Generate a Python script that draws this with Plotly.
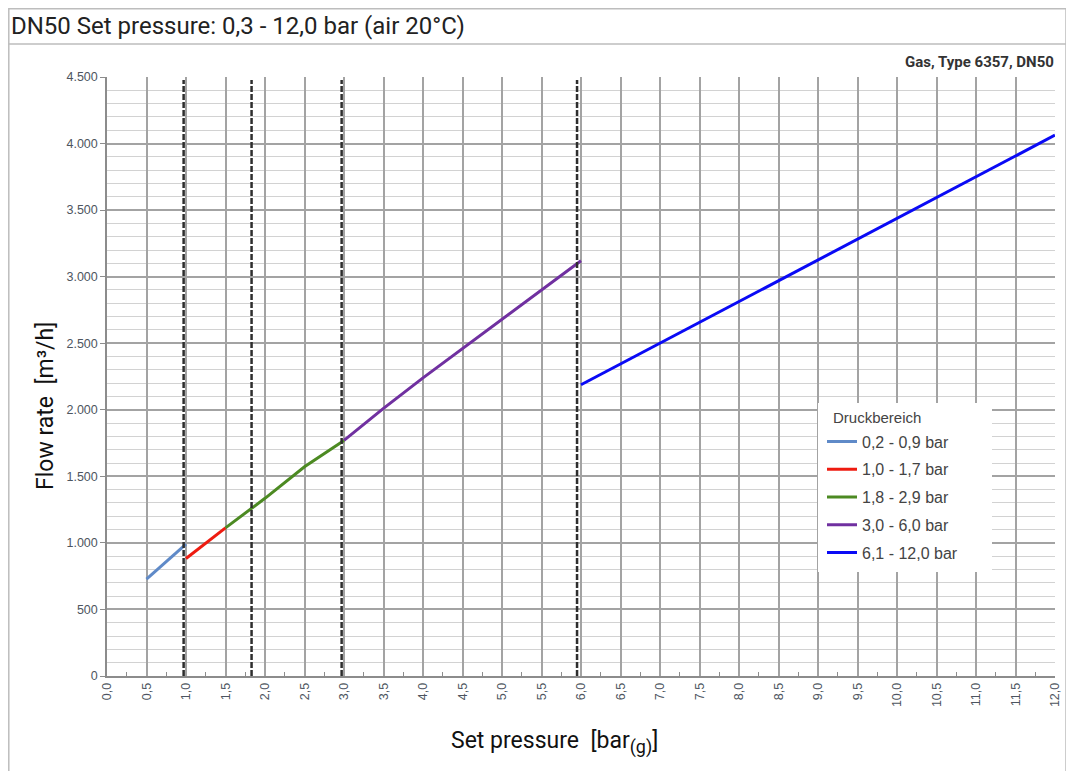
import plotly.graph_objects as go

# ---- data ----
series_names = ["0,2 - 0,9 bar", "1,0 - 1,7 bar", "1,8 - 2,9 bar", "3,0 - 6,0 bar", "6,1 - 12,0 bar"]
series_colors = ["#5F8AC8", "#EE1B10", "#4C8A22", "#7030A0", "#0A0AF5"]
legend_title = "Druckbereich"

x_s1 = [0.5, 1.0]
y_s1 = [727, 990]
x_s2 = [1.0, 1.5]
y_s2 = [883, 1113]
x_s3 = [1.5, 1.8, 2.0, 2.5, 3.0]
y_s3 = [1113, 1250, 1335, 1572, 1770]
x_s4 = [3.0, 3.5, 4.0, 4.5, 5.0, 5.5, 6.0]
y_s4 = [1770, 2010, 2240, 2460, 2680, 2900, 3120]
x_s5 = [6.0, 12.0]
y_s5 = [2188, 4063]

boundaries = [0.97, 1.83, 2.97, 5.95]

# page is offset by the 8px body margin
OFF = 8
W, H = 1066, 763
PL, PR, PT, PB = 107, 1055, 77, 676  # plot area in page pixels
L, R, T, B = PL - OFF, W - (PR - OFF), PT - OFF, H - (PB - OFF)
PW, PH = W - L - R, H - T - B


def px(x):
    return (x - OFF - L) / PW


def py(y):
    return (H - B - (y - OFF)) / PH


fig = go.Figure()

# dashed boundary lines
for b in boundaries:
    fig.add_shape(type="line", xref="x", yref="y domain", x0=b, x1=b, y0=0, y1=0.995,
                  line=dict(color="#2E2E2E", width=2.5, dash="6px,2px"), layer="above")

xs = [x_s1, x_s2, x_s3, x_s4, x_s5]
ys = [y_s1, y_s2, y_s3, y_s4, y_s5]
for i, (n, c) in enumerate(zip(series_names, series_colors)):
    fig.add_trace(go.Scatter(x=xs[i], y=ys[i], mode="lines", name=n, legendgroup=n,
                             line=dict(color=c, width=3)))

# white legend panel
fig.add_shape(type="rect", xref="paper", yref="paper", x0=px(818), x1=px(992), y0=py(403), y1=py(572),
              line=dict(width=0), fillcolor="white", layer="above")

# frame
fig.add_shape(type="rect", xref="paper", yref="paper", x0=px(8.8), x1=px(1066), y0=py(8.8), y1=py(800),
              line=dict(color="#BDBDBD", width=1.5), fillcolor="rgba(0,0,0,0)", layer="below")
fig.add_shape(type="line", xref="paper", yref="paper", x0=px(8.8), x1=px(1066), y0=py(44), y1=py(44),
              line=dict(color="#BDBDBD", width=1.5))

fig.add_annotation(text="DN50 Set pressure: 0,3 - 12,0 bar (air 20°C)", xref="paper", yref="paper",
                   x=px(9), y=py(26), xanchor="left", yanchor="middle", showarrow=False,
                   font=dict(family="Roboto", size=24, color="#222222"))
fig.add_annotation(text="<b>Gas, Type 6357, DN50</b>", xref="paper", yref="paper",
                   x=px(1056), y=py(62), xanchor="right", yanchor="middle", showarrow=False,
                   font=dict(family="Roboto", size=15, color="#333333"))
fig.add_annotation(text="Flow rate \u00a0[m³/h]", xref="paper", yref="paper",
                   x=px(45), y=py(406), xanchor="center", yanchor="middle", textangle=-90, showarrow=False,
                   font=dict(family="Roboto", size=23, color="#111111"))
fig.add_annotation(text="Set pressure \u00a0[bar<sub><span style='font-size:18px'>(g)</span></sub>]",
                   xref="paper", yref="paper",
                   x=px(554), y=py(742), xanchor="center", yanchor="middle", showarrow=False,
                   font=dict(family="Roboto", size=23, color="#111111"))
fig.add_annotation(text=legend_title, xref="paper", yref="paper",
                   x=px(831), y=py(418), xanchor="left", yanchor="middle", showarrow=False,
                   font=dict(family="Arial", size=15, color="#444444"))

fig.update_layout(
    width=W, height=H, autosize=False,
    margin=dict(l=L, r=R, t=T, b=B),
    paper_bgcolor="white", plot_bgcolor="white",
    separators=",.",
    showlegend=True,
    legend=dict(
        x=px(822), y=py(424.5), xanchor="left", yanchor="top",
        bgcolor="rgba(255,255,255,0)", font=dict(family="Arial", size=16, color="#444444"),
        tracegroupgap=4, itemwidth=30,
    ),
    xaxis=dict(
        range=[0, 12], dtick=0.5, tick0=0, tickformat=".1f", tickangle=-90,
        showgrid=True, gridcolor="#A3A3A3", gridwidth=1.5,
        showline=True, linecolor="#8C8C8C", linewidth=1.5,
        ticks="", tickfont=dict(family="Arial", size=12.5, color="#4D5560"),
        minor=dict(dtick=0.25, ticks="inside", ticklen=4, tickcolor="#8C8C8C", showgrid=False),
        zeroline=False, fixedrange=True,
    ),
    yaxis=dict(
        range=[0, 4500], dtick=500, tickformat=",d",
        showgrid=True, gridcolor="#A3A3A3", gridwidth=1.5,
        showline=True, linecolor="#8C8C8C", linewidth=1.5,
        ticks="outside", ticklen=5, tickcolor="#8C8C8C",
        tickfont=dict(family="Arial", size=12.5, color="#4D5560"),
        minor=dict(dtick=100, showgrid=True, gridcolor="#D2D2D2", gridwidth=1.2),
        zeroline=False, fixedrange=True,
    ),
)

fig.write_html("out.html", config={"responsive": False})
